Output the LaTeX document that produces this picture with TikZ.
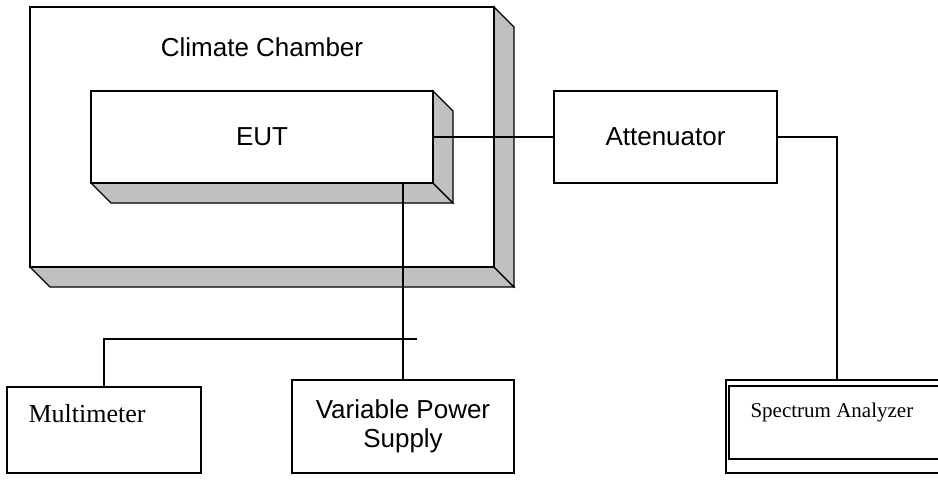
\documentclass[tikz,border=0pt]{standalone}
\usepackage{fontspec}
\setmainfont{Liberation Serif}
\newfontfamily\arialfont{Liberation Sans}
\definecolor{shade}{HTML}{C0C0C0}
\tikzset{
  face/.style={draw=black, fill=shade, line join=miter},
  boxn/.style={draw=black, fill=white, rectangle, inner sep=0pt},
  sans/.style={font=\arialfont\fontsize{26}{29}\selectfont},
  serif/.style={font=\fontsize{26}{29}\selectfont, inner sep=0pt, anchor=base west},
  wire/.style={draw=black}
}
\begin{document}
\begin{tikzpicture}[x=1pt,y=-1pt,line width=1.1pt]
\useasboundingbox (0,0) rectangle (938,483);
\clip (0,0) rectangle (938,483);
\fill[white] (0,0) rectangle (938,483);
% Climate chamber
\filldraw[face] (30,267) -- (494,267) -- (514,287) -- (50,287) -- cycle;
\filldraw[face] (494,7) -- (514,27) -- (514,287) -- (494,267) -- cycle;
\node[boxn, minimum width=464pt, minimum height=260pt] (chamber) at (262,137) {};
\node[sans] (title) at (262,47) {Climate Chamber};
% EUT
\filldraw[face] (91,183) -- (433,183) -- (453,203) -- (111,203) -- cycle;
\filldraw[face] (433,91) -- (453,111) -- (453,203) -- (433,183) -- cycle;
\node[boxn, sans, minimum width=342pt, minimum height=92pt] (eut) at (262,137) {EUT};
% Attenuator
\node[boxn, sans, minimum width=223pt, minimum height=92pt] (att) at (665.5,137) {Attenuator};
% Variable power supply
\node[boxn, sans, align=center, minimum width=222pt, minimum height=93pt] (vps) at (403,426.5) {Variable Power\\Supply};
% Multimeter
\node[boxn, minimum width=194pt, minimum height=86pt] (mm) at (104,430) {};
\node[serif] (mmt) at (28,422) {Multimeter};
% Spectrum analyzer
\node[boxn, minimum width=260pt, minimum height=93pt] (sa) at (856,426.5) {};
\node[boxn, minimum width=260pt, minimum height=73pt] (sain) at (859,422.5) {};
\node[serif, font=\fontsize{21}{24}\selectfont] (sat) at (750,417) {Spectrum Analyzer};
% Connectors
\coordinate (satop) at (837,380);
\coordinate (hend) at (417,339);
\draw[wire] (eut.east) -- (att.west);
\draw[wire] (att.east) -| (satop);
\draw[wire] (vps.north) -- (vps.north |- eut.south);
\draw[wire] (hend) -| (mm.north);
\end{tikzpicture}
\end{document}
